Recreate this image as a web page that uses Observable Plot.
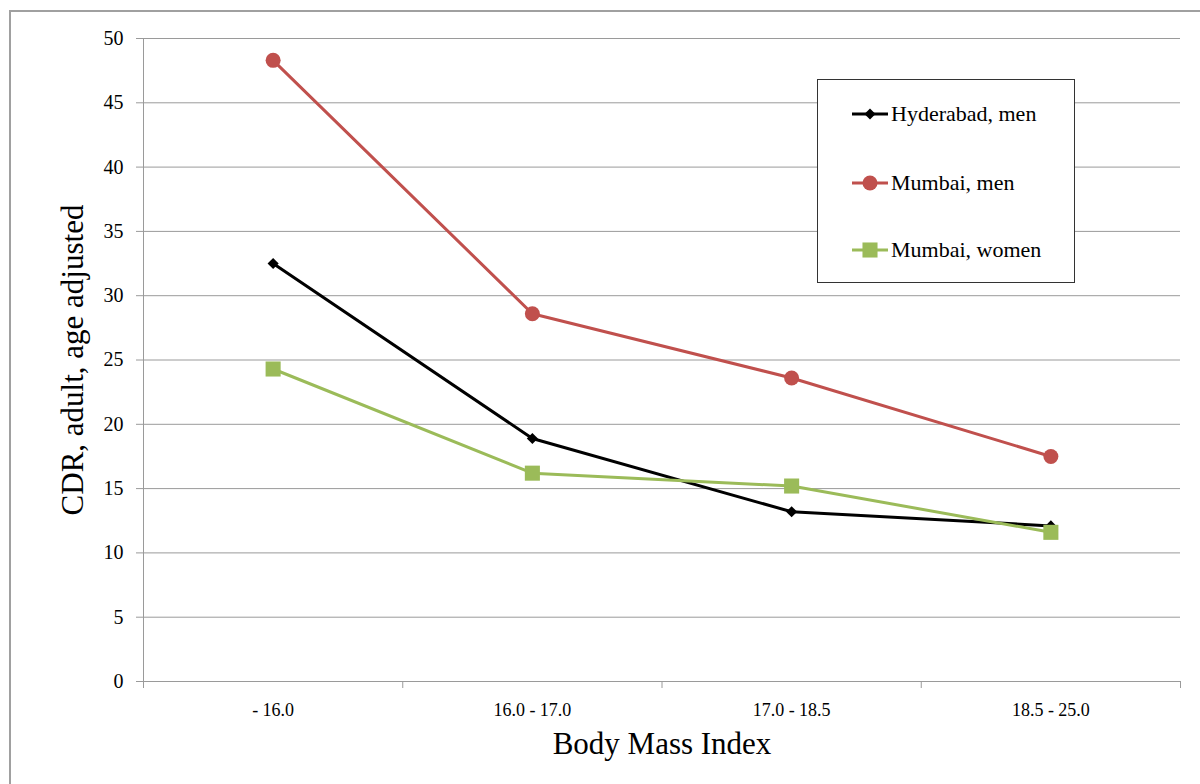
<!DOCTYPE html>
<html>
<head>
<meta charset="utf-8">
<script src="https://cdn.jsdelivr.net/npm/d3@7"></script>
<script src="https://cdn.jsdelivr.net/npm/@observablehq/plot@0.6"></script>
<style>
  html, body { margin: 0; padding: 0; background: #fff; }
  body { width: 1200px; height: 784px; overflow: hidden; position: relative; font-family: "Liberation Serif", serif; }
  #frame { position: absolute; left: 9px; top: 10px; width: 1220px; height: 800px; border: 2px solid #a0a0a0; box-sizing: border-box; }
  #chart { position: absolute; left: 0; top: 0; }
  #chart svg text { font-family: "Liberation Serif", serif !important; }
  #chart svg [aria-label="y-axis tick label"], #chart svg [aria-label="y-axis tick label"] text { font-size: 20px !important; }
  #chart svg [aria-label="x-axis tick label"], #chart svg [aria-label="x-axis tick label"] text { font-size: 18px !important; }
  #legend { position: absolute; left: 817px; top: 79px; width: 258px; height: 204px; border: 1px solid #333; background: #fff; box-sizing: border-box; }
  .item { position: absolute; left: 34px; display: flex; align-items: center; font-size: 22px; color: #000; font-family: "Liberation Serif", serif !important; }
  .item svg { margin-right: 3px; }
</style>
</head>
<body>
<div id="frame"></div>
<div id="chart"></div>
<div id="legend"></div>
<script>
const categories = ["- 16.0", "16.0 - 17.0", "17.0 - 18.5", "18.5 - 25.0"];
const hyderabadMen = [32.5, 18.9, 13.2, 12.1];
const mumbaiMen = [48.3, 28.6, 23.6, 17.5];
const mumbaiWomen = [24.3, 16.2, 15.2, 11.6];
const yTicks = [0, 5, 10, 15, 20, 25, 30, 35, 40, 45, 50];

const series = [
  {name: "Hyderabad, men", values: hyderabadMen, color: "#000000", symbol: "diamond2", r: 5},
  {name: "Mumbai, men", values: mumbaiMen, color: "#c0504d", symbol: "circle", r: 7.5},
  {name: "Mumbai, women", values: mumbaiWomen, color: "#9bbb59", symbol: "square", r: 8.5}
];

const rows = (s) => s.values.map((v, i) => ({x: i + 0.5, y: v}));
const boundaries = d3.range(categories.length + 1);
const centers = categories.map((c, i) => i + 0.5);

const font = '"Liberation Serif", serif';
const marks = [
  Plot.gridY(yTicks, {stroke: "#9a9a9a", strokeOpacity: 1, strokeWidth: 1}),
  Plot.ruleX([0], {stroke: "#9a9a9a", strokeWidth: 1}),
  Plot.ruleY([0], {stroke: "#9a9a9a", strokeWidth: 1}),
  Plot.axisY({ticks: yTicks, tickSize: 7, tickPadding: 13, stroke: "#9a9a9a", fill: "#000", label: null}),
  Plot.axisX({ticks: boundaries, tickSize: 7, tickFormat: () => "", stroke: "#9a9a9a", label: null}),
  Plot.axisX({ticks: centers, tickSize: 0, tickPadding: 22, tickFormat: (d) => categories[Math.round(d - 0.5)], fill: "#000", label: null}),
  Plot.text(["Body Mass Index"], {frameAnchor: "bottom", dy: 72, fontSize: 31, fill: "#000", fontFamily: font}),
  Plot.text(["CDR, adult, age adjusted"], {frameAnchor: "left", textAnchor: "middle", lineAnchor: "middle", dx: -70, rotate: -90, fontSize: 31, fill: "#000", fontFamily: font})
];
for (const s of series) {
  marks.push(Plot.line(rows(s), {x: "x", y: "y", stroke: s.color, strokeWidth: 3}));
}
for (const s of series) {
  marks.push(Plot.dot(rows(s), {x: "x", y: "y", fill: s.color, stroke: "none", symbol: s.symbol, r: s.r}));
}

const chart = Plot.plot({
  width: 1200,
  height: 784,
  marginLeft: 143,
  marginRight: 20,
  marginTop: 38,
  marginBottom: 103,
  style: {background: "transparent", fontFamily: font, fontSize: "18px"},
  x: {domain: [0, categories.length], axis: null},
  y: {domain: [0, 50], axis: null},
  marks
});
document.getElementById("chart").appendChild(chart);

const legend = document.getElementById("legend");
const tops = [21, 90, 157];
series.forEach((s, i) => {
  const item = document.createElement("div");
  item.className = "item";
  item.style.top = tops[i] + "px";
  const sw = d3.create("svg").attr("width", 36).attr("height", 20);
  sw.append("line").attr("x1", 0).attr("x2", 36).attr("y1", 10).attr("y2", 10).attr("stroke", s.color).attr("stroke-width", 3);
  const sym = {diamond2: d3.symbolDiamond2, circle: d3.symbolCircle, square: d3.symbolSquare}[s.symbol];
  sw.append("path").attr("transform", "translate(18,10)").attr("d", d3.symbol(sym, Math.PI * s.r * s.r)()).attr("fill", s.color);
  item.appendChild(sw.node());
  const t = document.createElement("span");
  t.textContent = s.name;
  item.appendChild(t);
  legend.appendChild(item);
});
</script>
</body>
</html>
